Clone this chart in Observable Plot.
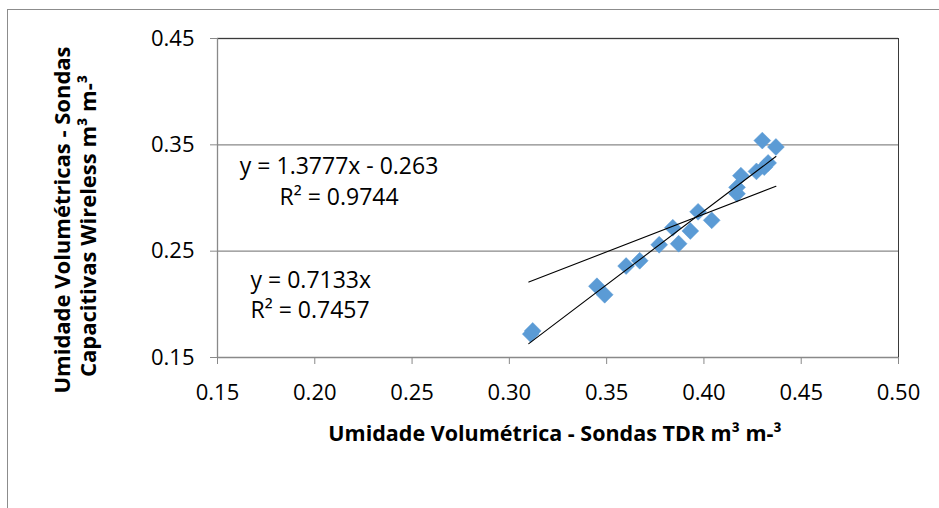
<!DOCTYPE html>
<html>
<head>
<meta charset="utf-8">
<script src="https://cdn.jsdelivr.net/npm/d3@7"></script>
<script src="https://cdn.jsdelivr.net/npm/@observablehq/plot@0.6"></script>
<style>
  html, body { margin: 0; padding: 0; background: #fff; }
  #wrap { position: relative; width: 939px; height: 508px; overflow: hidden; }
  #border { position: absolute; left: 7px; top: 9px; width: 1000px; height: 600px; border: 1px solid #8c8c8c; box-sizing: border-box; }
  #chart { position: absolute; left: 0; top: 0; }
</style>
</head>
<body>
<div id="wrap"><div id="border"></div><div id="chart"></div></div>
<script>
// Data
const tdr = [0.311, 0.312, 0.345, 0.349, 0.360, 0.367, 0.377, 0.384, 0.387, 0.393, 0.397, 0.404, 0.417, 0.417, 0.419, 0.427, 0.431, 0.433, 0.430, 0.437];
const cap = [0.172, 0.175, 0.217, 0.209, 0.236, 0.241, 0.256, 0.272, 0.257, 0.269, 0.287, 0.279, 0.304, 0.310, 0.321, 0.325, 0.329, 0.333, 0.354, 0.348];
const lineX = [0.310, 0.437];
const linearY = [0.163, 0.339];   // y = 1.3777x - 0.263
const throughOriginY = [0.221, 0.311]; // y = 0.7133x
const xTicks = [0.15, 0.20, 0.25, 0.30, 0.35, 0.40, 0.45, 0.50];
const yTicks = [0.15, 0.25, 0.35, 0.45];
const eq1 = ["y = 1.3777x - 0.263\nR² = 0.9744"];
const eq2 = ["y = 0.7133x\nR² = 0.7457"];
const xTitle = "Umidade Volumétrica - Sondas TDR m³ m-³";
const yTitle1 = "Umidade Volumétricas - Sondas";
const yTitle2 = "Capacitivas Wireless m³ m-³";

const points = tdr.map((x, i) => ({x, y: cap[i]}));
const linA = lineX.map((x, i) => ({x, y: linearY[i]}));
const linB = lineX.map((x, i) => ({x, y: throughOriginY[i]}));

const font = "'Open Sans', sans-serif";
const gray = "#898989";

const plot = Plot.plot({
  width: 939,
  height: 508,
  marginLeft: 217,
  marginRight: 41,
  marginTop: 38,
  marginBottom: 151,
  style: {fontFamily: font, fontSize: "22px", color: "#000", background: "transparent"},
  x: {domain: [0.15, 0.50], ticks: xTicks},
  y: {domain: [0.15, 0.45], ticks: yTicks},
  marks: [
    Plot.ruleY(yTicks.slice(1), {stroke: gray, strokeWidth: 1.3}),
    Plot.frame({stroke: "#3a3a3a", strokeWidth: 1}),
    Plot.ruleX([0.15], {stroke: gray, strokeWidth: 1.3}),
    Plot.ruleY([0.15], {stroke: gray, strokeWidth: 1.3}),
    Plot.axisX({ticks: xTicks, tickSize: 7, tickPadding: 20, stroke: gray, tickFormat: d3.format(".2f"), label: null, fontSize: 22}),
    Plot.axisY({ticks: yTicks, tickSize: 7, tickPadding: 16, stroke: gray, tickFormat: d3.format(".2f"), label: null, fontSize: 22}),
    Plot.dot(points, {x: "x", y: "y", symbol: "diamond2", r: 7.6, fill: "#5B9BD5", stroke: "#5B9BD5", strokeWidth: 0.5}),
    Plot.line(linA, {x: "x", y: "y", stroke: "#000", strokeWidth: 1.1}),
    Plot.line(linB, {x: "x", y: "y", stroke: "#000", strokeWidth: 1.1}),
    Plot.text(eq1, {x: 0.2125, y: 0.3170, text: d => d, textAnchor: "middle", lineHeight: 1.32, fontSize: 23, fill: "#000"}),
    Plot.text(eq2, {x: 0.167, y: 0.2105, text: d => d, textAnchor: "start", lineHeight: 1.32, fontSize: 23, fill: "#000"})
  ]
});

const svg = d3.select(plot);
svg.append("text")
  .attr("x", 555).attr("y", 441)
  .attr("text-anchor", "middle")
  .attr("font-family", font).attr("font-weight", "bold").attr("font-size", 21.5)
  .text(xTitle);
svg.append("text")
  .attr("transform", "translate(70,220) rotate(-90)")
  .attr("text-anchor", "middle")
  .attr("font-family", font).attr("font-weight", "bold").attr("font-size", 22)
  .text(yTitle1);
svg.append("text")
  .attr("transform", "translate(96,226) rotate(-90)")
  .attr("text-anchor", "middle")
  .attr("font-family", font).attr("font-weight", "bold").attr("font-size", 22)
  .text(yTitle2);

document.getElementById("chart").appendChild(plot);
</script>
</body>
</html>
